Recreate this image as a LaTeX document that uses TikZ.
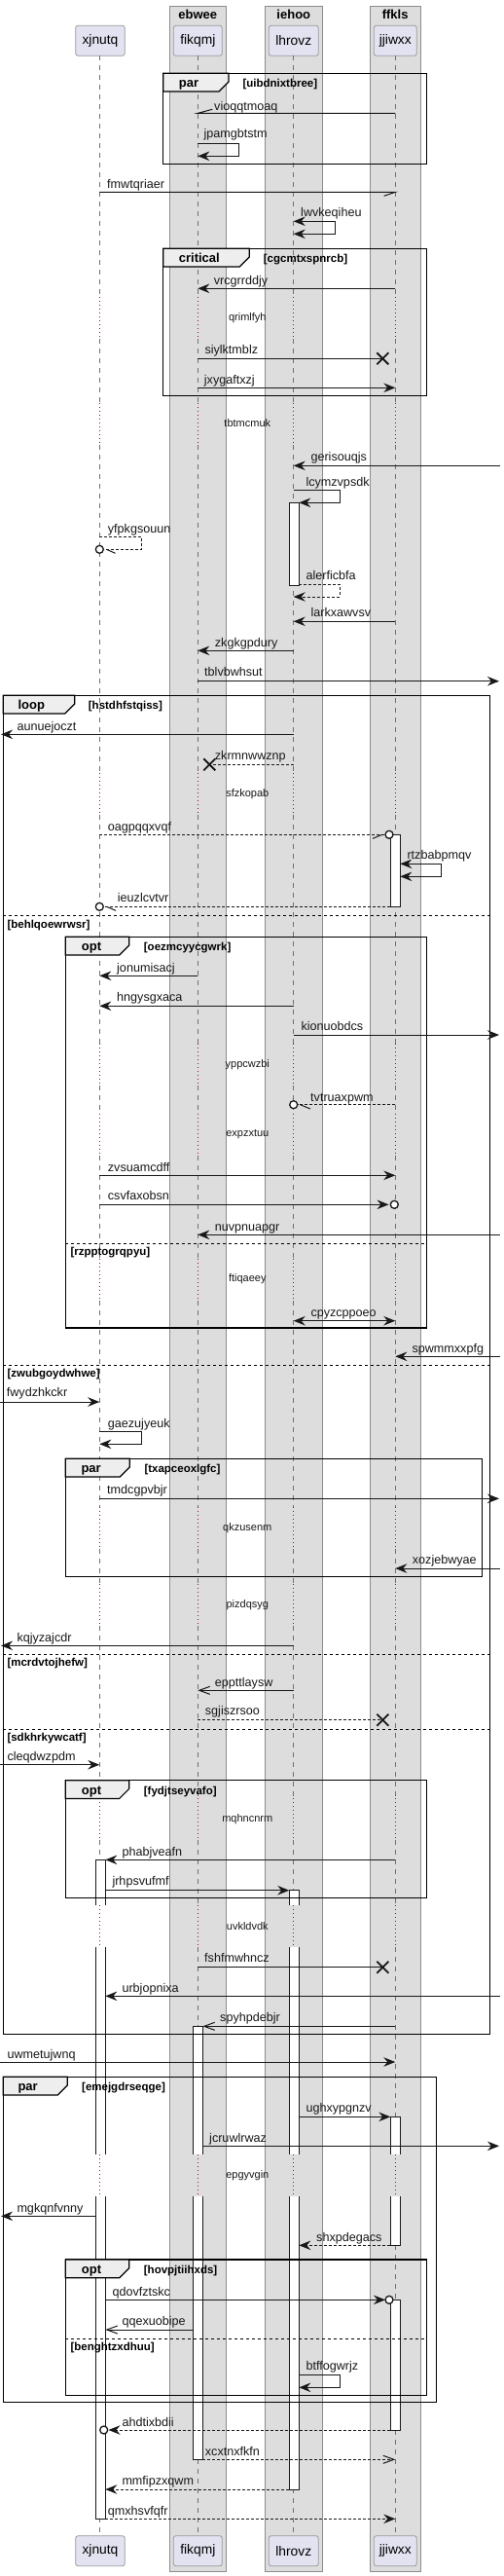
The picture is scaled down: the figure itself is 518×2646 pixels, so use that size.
\documentclass[tikz,border=0pt]{standalone}
\usepackage{fontspec}
\setmainfont{Liberation Sans}
\usetikzlibrary{arrows.meta}
\definecolor{boxbg}{HTML}{DDDDDD}
\definecolor{boxbd}{HTML}{8C8C8C}
\definecolor{partbg}{HTML}{E2E2F0}
\definecolor{partbd}{HTML}{9A9A9A}
\definecolor{lifec}{HTML}{707070}
\definecolor{delayc}{HTML}{B0004A}
\definecolor{ink}{HTML}{181818}
\definecolor{tabbg}{HTML}{EEEEEE}
\tikzset{
  grpbox/.style={draw=boxbd, fill=boxbg, line width=0.9pt},
  grpttl/.style={inner sep=0, font=\bfseries\fontsize{13}{15}\selectfont},
  part/.style={draw=partbd, fill=partbg, rounded corners=2.5pt, minimum height=31pt, inner sep=0, line width=0.8pt, font=\fontsize{13.8}{16}\selectfont},
  life/.style={draw=lifec, line width=0.8pt, dash pattern=on 5pt off 5pt},
  delayline/.style={draw=delayc, line width=0.9pt, dash pattern=on 1pt off 3pt},
  msg/.style={draw=ink, line width=1pt},
  dmsg/.style={draw=ink, line width=1pt, dash pattern=on 3pt off 2pt},
  barb/.style={-{Straight Barb[length=11pt,width=8pt]}},
  lbl/.style={anchor=base west, inner sep=0, text=ink, font=\fontsize{12.6}{14}\selectfont},
  dly/.style={inner sep=0, text=ink, font=\fontsize{11}{13}\selectfont},
  frm/.style={draw=black, line width=1.5pt},
  tabs/.style={draw=black, fill=tabbg, line width=1.2pt},
  flbl/.style={anchor=base west, inner sep=0, font=\bfseries\fontsize{13}{15}\selectfont},
  cond/.style={anchor=base west, inner sep=0, font=\bfseries\fontsize{11.5}{13}\selectfont},
  sepline/.style={draw=black, line width=1pt, dash pattern=on 3pt off 3pt},
  act/.style={draw=ink, line width=1pt},
  actfill/.style={fill=white},
  xmark/.style={draw=ink, line width=1.8pt},
  circ/.style={draw=ink, line width=1.3pt, fill=white},
  >={Stealth[length=12pt,width=9.5pt,inset=4pt]}
}
\begin{document}
\begin{tikzpicture}[x=1pt,y=-1pt]
\useasboundingbox (0,0) rectangle (518,2646);
\fill[white] (0,0) rectangle (518,2646);
% lifeline x positions
\coordinate (A) at (102.3,0);
\coordinate (B) at (203.3,0);
\coordinate (C) at (301.7,0);
\coordinate (D) at (406.3,0);
\coordinate (Al) at (98.3,0);
\coordinate (Ar) at (108.3,0);
\coordinate (Bl) at (198.3,0);
\coordinate (Br) at (208.3,0);
\coordinate (Cl) at (297.3,0);
\coordinate (Cr) at (307.3,0);
\coordinate (Dl) at (401.3,0);
\coordinate (Dr) at (411.3,0);
% group boxes
\draw[grpbox] (174.3,6) rectangle (232.3,2641);
\draw[grpbox] (272.3,6) rectangle (331.3,2641);
\draw[grpbox] (380.7,6) rectangle (432.3,2641);
\node[grpttl] (tB) at (203.3,15) {ebwee};
\node[grpttl] (tC) at (301.8,15) {iehoo};
\node[grpttl] (tD) at (406.2,15) {ffkls};
% participants
\node[part, minimum width=50.6pt] (pA) at (103,41.8) {xjnutq};
\node[part, minimum width=50pt] (pB) at (203.3,41.8) {fikqmj};
\node[part, minimum width=51pt] (pC) at (301.8,41.8) {lhrovz};
\node[part, minimum width=44pt] (pD) at (406.3,41.8) {jjiwxx};
\node[part, minimum width=50.6pt] (qA) at (103,2620.2) {xjnutq};
\node[part, minimum width=50pt] (qB) at (203.3,2620.2) {fikqmj};
\node[part, minimum width=51pt] (qC) at (301.8,2620.2) {lhrovz};
\node[part, minimum width=44pt] (qD) at (406.3,2620.2) {jjiwxx};
% lifelines
\foreach \lx in {102.3,203.3,301.7,406.3}{
  \foreach \a/\b in {57.3/305.2, 348.2/413.5, 456.5/793.8, 836.8/1071.8, 1114.8/1143.8, 1186.8/1292.5, 1335.5/1547.8, 1590.8/1627.2, 1670.2/1847.2, 1890.2/1956.8, 1999.8/2213.2, 2256.2/2604.3}
    \draw[life] (\lx,\a) -- (\lx,\b);
  \foreach \a/\b in {305.2/348.2, 413.5/456.5, 793.8/836.8, 1071.8/1114.8, 1143.8/1186.8, 1292.5/1335.5, 1547.8/1590.8, 1627.2/1670.2, 1847.2/1890.2, 1956.8/1999.8, 2213.2/2256.2}
    \draw[delayline] (\lx,\a) -- (\lx,\b);
}
% delay texts
\node[dly] (d1) at (254.3,326.7) {qrimlfyh};
\node[dly] (d2) at (254.3,435) {tbtmcmuk};
\node[dly] (d3) at (254.3,815.3) {sfzkopab};
\node[dly] (d4) at (254.3,1093.3) {yppcwzbi};
\node[dly] (d5) at (254.3,1165.3) {expzxtuu};
\node[dly] (d6) at (254.3,1314) {ftiqaeey};
\node[dly] (d7) at (254.3,1569.3) {qkzusenm};
\node[dly] (d8) at (254.3,1648.7) {pizdqsyg};
\node[dly] (d9) at (254.3,1868.7) {mqhncnrm};
\node[dly] (d10) at (254.3,1978.3) {uvkldvdk};
\node[dly] (d11) at (254.3,2234.7) {epgyvgin};
% activations
\draw[act, actfill] (297.3,516.3) rectangle (307.3,601.3);
\draw[act, actfill] (401.3,857.3) rectangle (411.3,931.3);
% xjnutq activation
\fill[actfill] (98.3,1910.3) rectangle (108.3,1956.8);
\draw[act] (98.3,1956.8) -- (98.3,1910.3) -- (108.3,1910.3) -- (108.3,1956.8);
\fill[actfill] (98.3,1999.8) rectangle (108.3,2213.2);
\draw[act] (98.3,1999.8) -- (98.3,2213.2) (108.3,1999.8) -- (108.3,2213.2);
\fill[actfill] (98.3,2256.2) rectangle (108.3,2587.3);
\draw[act] (98.3,2256.2) -- (98.3,2587.3) -- (108.3,2587.3) -- (108.3,2256.2);
% lhrovz activation
\fill[actfill] (297.3,1941.7) rectangle (307.3,1956.8);
\draw[act] (297.3,1956.8) -- (297.3,1941.7) -- (307.3,1941.7) -- (307.3,1956.8);
\fill[actfill] (297.3,1999.8) rectangle (307.3,2213.2);
\draw[act] (297.3,1999.8) -- (297.3,2213.2) (307.3,1999.8) -- (307.3,2213.2);
\fill[actfill] (297.3,2256.2) rectangle (307.3,2557);
\draw[act] (297.3,2256.2) -- (297.3,2557) -- (307.3,2557) -- (307.3,2256.2);
% fikqmj activation
\fill[actfill] (198.3,2081.3) rectangle (208.3,2213.2);
\draw[act] (198.3,2213.2) -- (198.3,2081.3) -- (208.3,2081.3) -- (208.3,2213.2);
\fill[actfill] (198.3,2256.2) rectangle (208.3,2526.3);
\draw[act] (198.3,2256.2) -- (198.3,2526.3) -- (208.3,2526.3) -- (208.3,2256.2);
% jjiwxx activations
\fill[actfill] (401.3,2174.3) rectangle (411.3,2213.2);
\draw[act] (401.3,2213.2) -- (401.3,2174.3) -- (411.3,2174.3) -- (411.3,2213.2);
\fill[actfill] (401.3,2256.2) rectangle (411.3,2306.3);
\draw[act] (401.3,2256.2) -- (401.3,2306.3) -- (411.3,2306.3) -- (411.3,2256.2);
\draw[act, actfill] (401.3,2362.3) rectangle (411.3,2496);
% frames
% par uibdnixtbree
\draw[frm] (167.7,75.3) rectangle (438.3,168.3);
\draw[tabs] (167.7,75.3) -- (235,75.3) -- (235,84) -- (225,94) -- (167.7,94) -- cycle;
\node[flbl] (f1) at (183.7,89.8) {par};
\node[cond] (c1) at (249.3,89.8) {[uibdnixtbree]};
% critical
\draw[frm] (167.7,255.3) rectangle (438.3,406.3);
\draw[tabs] (167.7,255.3) -- (256.3,255.3) -- (256.3,264) -- (246.3,274) -- (167.7,274) -- cycle;
\node[flbl] (f2) at (183.7,269.8) {critical};
\node[cond] (c2) at (270.7,269.8) {[cgcmtxspnrcb]};
% loop
\draw[frm] (3.3,714.3) rectangle (503.3,2089.3);
\draw[tabs] (3.3,714.3) -- (76.7,714.3) -- (76.7,723) -- (66.7,733) -- (3.3,733) -- cycle;
\node[flbl] (f3) at (18.3,728.8) {loop};
\node[cond] (c3) at (90.7,728.8) {[hstdhfstqiss]};
\draw[sepline] (3.3,940.7) -- (503.3,940.7);
\node[cond] (e3a) at (7.3,953.2) {[behlqoewrwsr]};
\draw[sepline] (3.3,1402) -- (503.3,1402);
\node[cond] (e3b) at (7.3,1414.5) {[zwubgoydwhwe]};
\draw[sepline] (3.3,1699.3) -- (503.3,1699.3);
\node[cond] (e3c) at (7.3,1711.8) {[mcrdvtojhefw]};
\draw[sepline] (3.3,1776) -- (503.3,1776);
\node[cond] (e3d) at (7.3,1788.5) {[sdkhrkywcatf]};
% opt oezmcyycgwrk
\draw[frm] (67.3,962.3) rectangle (438.3,1364);
\draw[tabs] (67.3,962.3) -- (132.7,962.3) -- (132.7,971) -- (122.7,981) -- (67.3,981) -- cycle;
\node[flbl] (f4) at (83.7,976.8) {opt};
\node[cond] (c4) at (147.7,976.8) {[oezmcyycgwrk]};
\draw[sepline] (67.3,1277.3) -- (438.3,1277.3);
\node[cond] (e4) at (72.3,1289.8) {[rzpptogrqpyu]};
% par txapceoxlgfc
\draw[frm] (67.3,1498.3) rectangle (495.7,1619.3);
\draw[tabs] (67.3,1498.3) -- (133.3,1498.3) -- (133.3,1507) -- (123.3,1517) -- (67.3,1517) -- cycle;
\node[flbl] (f5) at (83.3,1512.8) {par};
\node[cond] (c5) at (148.3,1512.8) {[txapceoxlgfc]};
% opt fydjtseyvafo
\draw[frm] (67.3,1828.7) rectangle (438.3,1949.3);
\draw[tabs] (67.3,1828.7) -- (132.7,1828.7) -- (132.7,1837.4) -- (122.7,1847.4) -- (67.3,1847.4) -- cycle;
\node[flbl] (f6) at (83.7,1843.2) {opt};
\node[cond] (c6) at (147.7,1843.2) {[fydjtseyvafo]};
% par emejgdrseqge
\draw[frm] (3.3,2133.3) rectangle (448.3,2467.3);
\draw[tabs] (3.3,2133.3) -- (69.3,2133.3) -- (69.3,2142) -- (59.3,2152) -- (3.3,2152) -- cycle;
\node[flbl] (f7) at (18.3,2147.8) {par};
\node[cond] (c7) at (84,2147.8) {[emejgdrseqge]};
% opt hovpjtiihxds
\draw[frm] (67.3,2321) rectangle (438.3,2460.7);
\draw[tabs] (67.3,2321) -- (132.7,2321) -- (132.7,2329.7) -- (122.7,2339.7) -- (67.3,2339.7) -- cycle;
\node[flbl] (f8) at (83.7,2335.5) {opt};
\node[cond] (c8) at (147.7,2335.5) {[hovpjtiihxds]};
\draw[sepline] (67.3,2402) -- (438.3,2402);
\node[cond] (e8) at (72.3,2414.5) {[benghtzxdhuu]};
% ===== messages =====
\draw[msg] (D |- 0,116.3) -- (B |- 0,116.3) -- ++(15,-4);
\node[lbl] at (220,113.2) {vioqqtmoaq};
\draw[msg,->] (B |- 0,147.7) -- (245.7,147.7) -- (245.7,160.3) -- (B |- 0,160.3);
\node[lbl] at (209.3,141.8) {jpamgbtstm};
\draw[msg] (A |- 0,197.3) -- (D |- 0,197.3) -- ++(-11.7,4);
\node[lbl] at (110,193.2) {fmwtqriaer};
\draw[msg,<->] (C |- 0,227.3) -- (344.3,227.3) -- (344.3,240.3) -- (C |- 0,240.3);
\node[lbl] at (309,222.8) {lwvkeqiheu};
\draw[msg,->] (D |- 0,296.3) -- (B |- 0,296.3);
\node[lbl] at (219.7,292.2) {vrcgrrddjy};
\draw[msg] (B |- 0,368.3) -- (393.3,368.3);
\draw[xmark] (387.3,362.3) -- (399.3,374.3) (387.3,374.3) -- (399.3,362.3);
\node[lbl] at (210.3,363.2) {siylktmblz};
\draw[msg,->] (B |- 0,398.3) -- (D |- 0,398.3);
\node[lbl] at (209.7,394.5) {jxygaftxzj};
\draw[msg,->] (513.5,478.3) -- (C |- 0,478.3);
\node[lbl] at (319.3,473.2) {gerisouqjs};
\draw[msg,->] (C |- 0,503.3) -- (349.3,503.3) -- (349.3,516.3) -- (Cr |- 0,516.3);
\node[lbl] at (314.3,499.5) {lcymzvpsdk};
\draw[dmsg] (A |- 0,551.3) -- (145.7,551.3) -- (145.7,564.3) -- (106.3,564.3);
\draw[circ] (A |- 0,564.3) circle (4);
\draw[msg] (109.5,564.3) -- ++(9,4);
\node[lbl] at (110.7,547.5) {yfpkgsouun};
\draw[dmsg,->] (Cr |- 0,600.3) -- (349.3,600.3) -- (349.3,613) -- (C |- 0,613);
\node[lbl] at (314.3,595.2) {alerficbfa};
\draw[msg,->] (D |- 0,638.3) -- (C |- 0,638.3);
\node[lbl] at (319.3,633.5) {larkxawvsv};
\draw[msg,->] (C |- 0,668.3) -- (B |- 0,668.3);
\node[lbl] at (220.7,664.4) {zkgkgpdury};
\draw[msg,->] (B |- 0,699.7) -- (513,699.7);
\node[lbl] at (210,694.5) {tblvbwhsut};
\draw[msg,->] (C |- 0,754.3) -- (1,754.3);
\node[lbl] at (17.3,750.5) {aunuejoczt};
\draw[dmsg] (C |- 0,785.3) -- (215.3,785.3);
\draw[xmark] (209.3,779.3) -- (221.3,791.3) (209.3,791.3) -- (221.3,779.3);
\node[lbl] at (220.7,780.5) {zkrmnwwznp};
\draw[dmsg] (A |- 0,857.3) -- (396,857.3);
\draw[circ] (400,857.3) circle (4);
\draw[msg] (393,857.3) -- ++(-10,4);
\node[lbl] at (110.7,853.5) {oagpqqxvqf};
\draw[msg,<->] (Dr |- 0,887.3) -- (453.3,887.3) -- (453.3,900.3) -- (Dr |- 0,900.3);
\node[lbl] at (418.3,882.8) {rtzbabpmqv};
\draw[dmsg] (Dl |- 0,931.3) -- (106.3,931.3);
\draw[circ] (A |- 0,931.3) circle (4);
\draw[msg] (109.5,931.3) -- ++(9.5,4);
\node[lbl] at (120.7,926.2) {ieuzlcvtvr};
\draw[msg,->] (B |- 0,1002.3) -- (A |- 0,1002.3);
\node[lbl] at (120,998.5) {jonumisacj};
\draw[msg,->] (C |- 0,1033.3) -- (A |- 0,1033.3);
\node[lbl] at (120,1028.5) {hngysgxaca};
\draw[msg,->] (C |- 0,1063) -- (513,1063);
\node[lbl] at (309.3,1058.8) {kionuobdcs};
\draw[dmsg] (D |- 0,1134.7) -- (305.7,1134.7);
\draw[circ] (C |- 0,1134.7) circle (4);
\draw[msg] (308.5,1134.7) -- ++(10.5,4.3);
\node[lbl] at (319,1131.2) {tvtruaxpwm};
\draw[msg,->] (A |- 0,1207.3) -- (D |- 0,1207.3);
\node[lbl] at (110.7,1203.5) {zvsuamcdff};
\draw[msg,->] (A |- 0,1237.3) -- (399.5,1237.3);
\draw[circ] (405.3,1237.3) circle (4);
\node[lbl] at (110.7,1232.8) {csvfaxobsn};
\draw[msg,->] (513.5,1268.3) -- (B |- 0,1268.3);
\node[lbl] at (220.7,1264.5) {nuvpnuapgr};
\draw[msg,<->] (C |- 0,1356.7) -- (D |- 0,1356.7);
\node[lbl] at (319.3,1352.2) {cpyzcppoeo};
\draw[msg,->] (513.5,1393.3) -- (D |- 0,1393.3);
\node[lbl] at (423.3,1389.2) {spwmmxxpfg};
\draw[msg,->] (0,1440) -- (A |- 0,1440);
\node[lbl] at (6.7,1434.8) {fwydzhkckr};
\draw[msg,->] (A |- 0,1470.7) -- (145.7,1470.7) -- (145.7,1483.3) -- (A |- 0,1483.3);
\node[lbl] at (110.7,1466.5) {gaezujyeuk};
\draw[msg,->] (A |- 0,1539.3) -- (513,1539.3);
\node[lbl] at (110,1534.5) {tmdcgpvbjr};
\draw[msg,->] (513.5,1611) -- (D |- 0,1611);
\node[lbl] at (423.7,1606.5) {xozjebwyae};
\draw[msg,->] (C |- 0,1690.3) -- (1,1690.3);
\node[lbl] at (17.3,1686.2) {kqjyzajcdr};
\draw[msg,barb] (C |- 0,1736.3) -- (B |- 0,1736.3);
\node[lbl] at (220.7,1732.2) {eppttlaysw};
\draw[dmsg] (B |- 0,1766.7) -- (393.3,1766.7);
\draw[xmark] (387.3,1760.7) -- (399.3,1772.7) (387.3,1772.7) -- (399.3,1760.7);
\node[lbl] at (210.7,1761.8) {sgjiszrsoo};
\draw[msg,->] (0,1812.7) -- (A |- 0,1812.7);
\node[lbl] at (7.3,1808.2) {cleqdwzpdm};
\draw[msg,->] (D |- 0,1910.3) -- (Ar |- 0,1910.3);
\node[lbl] at (125.3,1906.2) {phabjveafn};
\draw[msg,->] (Ar |- 0,1941.7) -- (Cl |- 0,1941.7);
\node[lbl] at (115.3,1936.5) {jrhpsvufmf};
\draw[msg] (B |- 0,2020.7) -- (393.3,2020.7);
\draw[xmark] (387.3,2014.7) -- (399.3,2026.7) (387.3,2026.7) -- (399.3,2014.7);
\node[lbl] at (210,2015.2) {fshfmwhncz};
\draw[msg,->] (513.5,2050.3) -- (Ar |- 0,2050.3);
\node[lbl] at (125.3,2046.2) {urbjopnixa};
\draw[msg,barb] (D |- 0,2081.3) -- (Br |- 0,2081.3);
\node[lbl] at (226,2076.5) {spyhpdebjr};
\draw[msg,->] (0,2118) -- (D |- 0,2118);
\node[lbl] at (7.3,2114.5) {uwmetujwnq};
\draw[msg,->] (Cr |- 0,2174.3) -- (Dl |- 0,2174.3);
\node[lbl] at (314.3,2169.5) {ughxypgnzv};
\draw[msg,->] (Br |- 0,2204.3) -- (513,2204.3);
\node[lbl] at (215,2200.5) {jcruwlrwaz};
\draw[msg,->] (Al |- 0,2276.3) -- (1,2276.3);
\node[lbl] at (17.3,2272.2) {mgkqnfvnny};
\draw[dmsg,->] (Dl |- 0,2306.3) -- (Cr |- 0,2306.3);
\node[lbl] at (325,2302.2) {shxpdegacs};
\draw[msg,->] (Ar |- 0,2362.3) -- (396,2362.3);
\draw[circ] (400,2362.3) circle (4);
\node[lbl] at (115.3,2358.5) {qdovfztskc};
\draw[msg,barb] (Bl |- 0,2393) -- (Ar |- 0,2393);
\node[lbl] at (125.3,2388.5) {qqexuobipe};
\draw[msg,->] (Cr |- 0,2439.3) -- (349.3,2439.3) -- (349.3,2452.3) -- (Cr |- 0,2452.3);
\node[lbl] at (314.3,2434.5) {btffogwrjz};
\draw[dmsg,->] (Dl |- 0,2496) -- (111.5,2496);
\draw[circ] (106.7,2496) circle (4);
\node[lbl] at (125.3,2492.2) {ahdtixbdii};
\draw[dmsg,barb] (Br |- 0,2526.3) -- (D |- 0,2526.3);
\node[lbl] at (210.7,2522.5) {xcxtnxfkfn};
\draw[dmsg,->] (Cl |- 0,2557) -- (Ar |- 0,2557);
\node[lbl] at (125.3,2552.8) {mmfipzxqwm};
\draw[dmsg,->] (Ar |- 0,2587.3) -- (D |- 0,2587.3);
\node[lbl] at (110.7,2583.2) {qmxhsvfqfr};
\end{tikzpicture}
\end{document}
